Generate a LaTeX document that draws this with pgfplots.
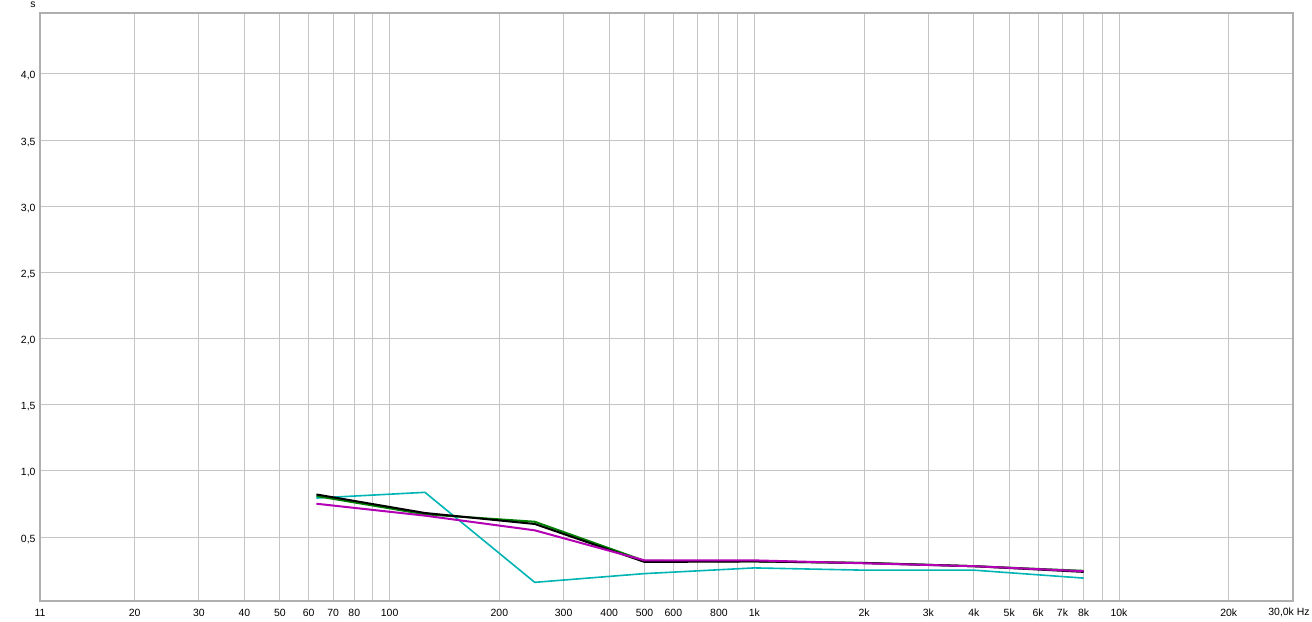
\documentclass[border=0pt]{standalone}
\usepackage{pgfplots}
\pgfplotsset{compat=1.18}
\usepackage{fontspec}
\setmainfont{Liberation Sans}

\definecolor{rtcyan}{RGB}{0,180,180}
\definecolor{rtgreen}{RGB}{0,128,0}
\definecolor{rtmag}{RGB}{180,0,180}
\definecolor{gridgray}{RGB}{196,196,196}
\definecolor{framegray}{RGB}{175,175,175}

\begin{document}
\begin{tikzpicture}
\path[use as bounding box] (-40bp,-21bp) rectangle (1272bp,601bp);
\begin{semilogxaxis}[
    at={(0,0)}, anchor=south west,
    scale only axis, width=1253bp, height=588bp,
    xmin=11, xmax=30000, ymin=0.017, ymax=4.46,
    xtick={20,30,40,50,60,70,80,90,100,200,300,400,500,600,700,800,900,1000,2000,3000,4000,5000,6000,7000,8000,9000,10000,20000},
    xticklabels={20,30,40,50,60,70,80,,100,200,300,400,500,600,,800,,1k,2k,3k,4k,5k,6k,7k,8k,,10k,20k},
    extra x ticks={11}, extra x tick labels={11},
    extra x tick style={grid=none},
    ytick={0.5,1,1.5,2,2.5,3,3.5,4},
    yticklabels={{0,5},{1,0},{1,5},{2,0},{2,5},{3,0},{3,5},{4,0}},
    xmajorgrids, ymajorgrids,
    grid style={draw=gridgray, line width=1bp},
    major tick length=0pt,
    axis line style={draw=framegray, line width=2.5bp},
    tick label style={font=\fontsize{10.5}{12}\selectfont, text=black},
    xticklabel style={yshift=-4.5bp},
    yticklabel style={xshift=-1bp, yshift=-2bp},
    clip mode=individual,
]
% cyan
\addplot[rtcyan, line width=1.6bp] coordinates {
  (63,0.795) (125,0.838) (250,0.158) (500,0.224) (1000,0.267)
  (2000,0.25) (4000,0.25) (8000,0.19)};
% green
\addplot[rtgreen, line width=2bp] coordinates {
  (63,0.81) (125,0.672) (250,0.616) (500,0.32) (1000,0.316)
  (2000,0.305) (4000,0.28) (8000,0.245)};
% black
\addplot[black, line width=2bp] coordinates {
  (63,0.822) (125,0.682) (250,0.599) (500,0.312) (1000,0.316)
  (2000,0.304) (4000,0.28) (8000,0.237)};
% magenta
\addplot[rtmag, line width=2bp] coordinates {
  (63,0.752) (125,0.662) (250,0.551) (500,0.324) (1000,0.324)
  (2000,0.302) (4000,0.28) (8000,0.242)};

\node[anchor=north, font=\fontsize{10.5}{12}\selectfont, inner sep=0pt, yshift=-7bp, xshift=-4bp]
  at (axis cs:30000,0.017) {30,0k Hz};
\node[font=\fontsize{10.5}{12}\selectfont, xshift=-7bp, yshift=8bp]
  at (rel axis cs:0,1) {s};
\end{semilogxaxis}
\end{tikzpicture}
\end{document}
